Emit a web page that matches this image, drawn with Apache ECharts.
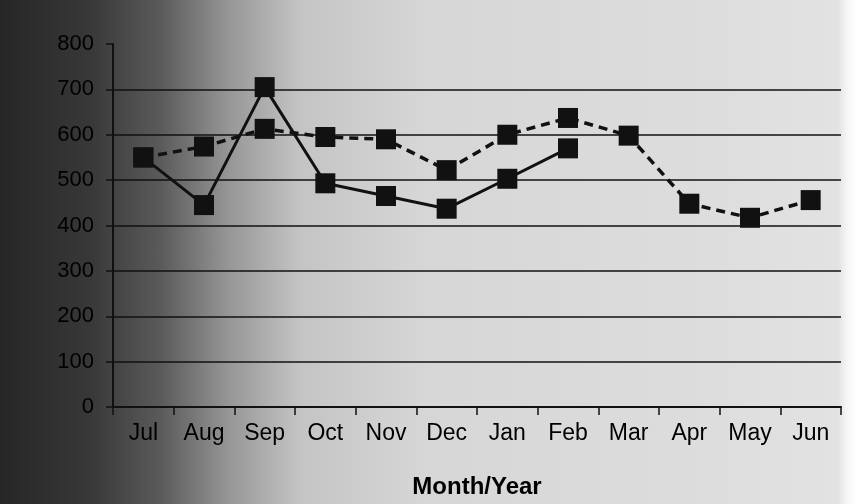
<!DOCTYPE html>
<html>
<head>
<meta charset="utf-8">
<script src="https://cdn.jsdelivr.net/npm/echarts@6/dist/echarts.min.js"></script>
<style>
  html, body { margin: 0; padding: 0; }
  body {
    width: 856px; height: 504px; overflow: hidden;
    background: linear-gradient(to right, #262626 0px, #383838 90px, #5a5a5a 160px, #979797 230px, #c4c4c4 300px, #d6d6d6 420px, #dddddd 700px, #e2e2e2 838px, #f4f4f4 846px, #ffffff 856px);
  }
  #chart { width: 856px; height: 504px; }
</style>
</head>
<body>
<div id="chart"></div>
<script>
const categories = ['Jul', 'Aug', 'Sep', 'Oct', 'Nov', 'Dec', 'Jan', 'Feb', 'Mar', 'Apr', 'May', 'Jun'];
const solidSeries = [550, 445, 705, 493, 465, 437, 503, 570, null, null, null, null];
const dashedSeries = [550, 574, 613, 595, 590, 522, 600, 637, 598, 448, 417, 456];
const yMin = 0, yMax = 800, yStep = 100;
const xTitle = 'Month/Year';

const chart = echarts.init(document.getElementById('chart'), null, { renderer: 'canvas' });
const font = '"Liberation Sans", Arial, sans-serif';
const gridColors = [];
for (let v = yMin; v <= yMax; v += yStep) gridColors.push(v === yMax ? 'rgba(0,0,0,0)' : '#111');

chart.setOption({
  backgroundColor: 'transparent',
  animation: false,
  grid: { left: 113, right: 15, top: 44, bottom: 94, containLabel: false },
  xAxis: {
    type: 'category',
    data: categories,
    boundaryGap: true,
    name: xTitle,
    nameLocation: 'middle',
    nameGap: 68,
    nameTextStyle: { fontFamily: font, fontSize: 24, fontWeight: 'bold', color: '#000' },
    axisLine: { lineStyle: { color: '#111', width: 2 } },
    axisTick: { show: true, alignWithLabel: false, length: 8, lineStyle: { color: '#111', width: 1.5 } },
    axisLabel: { fontFamily: font, fontSize: 23, color: '#000', margin: 15 },
    splitLine: { show: false }
  },
  yAxis: {
    type: 'value',
    min: yMin, max: yMax, interval: yStep,
    axisLine: { show: true, lineStyle: { color: '#111', width: 2 } },
    axisTick: { show: true, length: 7, lineStyle: { color: '#111', width: 1.5 } },
    axisLabel: { fontFamily: font, fontSize: 22, color: '#000', margin: 19 },
    splitLine: { show: true, lineStyle: { color: gridColors, width: 1.5 } }
  },
  series: [
    {
      name: 'Solid',
      type: 'line',
      data: solidSeries,
      symbol: 'rect',
      symbolSize: 20,
      connectNulls: false,
      lineStyle: { color: '#111', width: 3, type: 'solid' },
      itemStyle: { color: '#111' },
      z: 3
    },
    {
      name: 'Dashed',
      type: 'line',
      data: dashedSeries,
      symbol: 'rect',
      symbolSize: 20,
      lineStyle: { color: '#111', width: 3.5, type: [9, 6] },
      itemStyle: { color: '#111' },
      z: 2
    }
  ]
});
</script>
</body>
</html>
